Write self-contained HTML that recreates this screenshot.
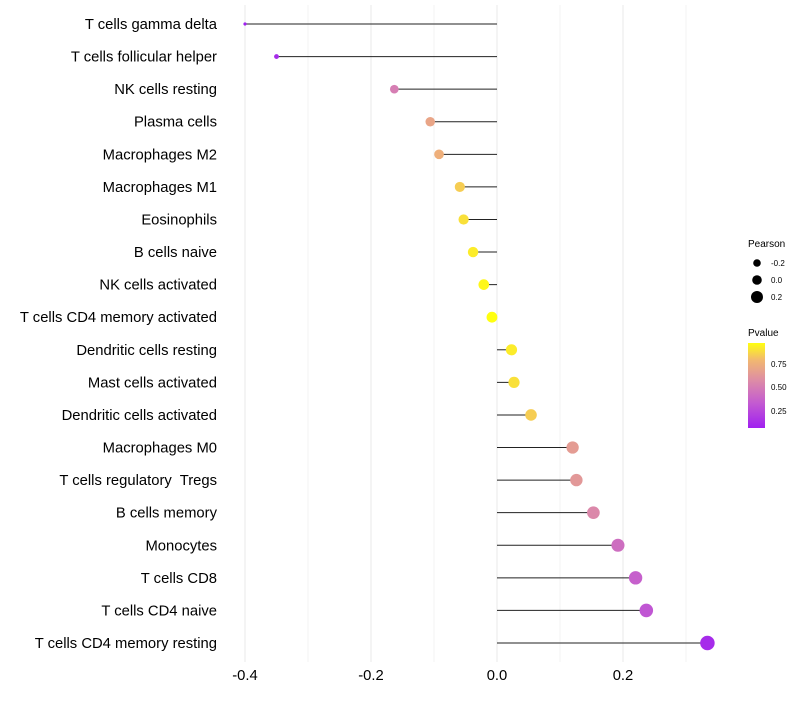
<!DOCTYPE html>
<html><head><meta charset="utf-8"><style>
body{margin:0;background:#fff;width:800px;height:700px;overflow:hidden;font-family:"Liberation Sans",sans-serif}
text{white-space:pre}
</style></head><body>
<svg id="chart" width="800" height="700" xmlns="http://www.w3.org/2000/svg">
<defs><linearGradient id="pg" x1="0" y1="1" x2="0" y2="0">
<stop offset="0" stop-color="#a020f0"/><stop offset="0.3" stop-color="#c45cd0"/><stop offset="0.55" stop-color="#dc8aa8"/><stop offset="0.8" stop-color="#f2b870"/><stop offset="1" stop-color="#ffff10"/></linearGradient></defs>
<g id="grid"></g>
<g id="marks"></g>
<g id="ylabels"></g>
<g id="xlabels"></g>
<g font-size="10">
<text x="748" y="247" fill="#000">Pearson</text>
<circle cx="757" cy="263" r="3.8" fill="#000"/><text x="771" y="266" font-size="8">-0.2</text>
<circle cx="757" cy="280" r="4.8" fill="#000"/><text x="771" y="283" font-size="8">0.0</text>
<circle cx="757" cy="297" r="6" fill="#000"/><text x="771" y="300" font-size="8">0.2</text>
</g>
<g font-size="10">
<text x="748" y="336" fill="#000">Pvalue</text>
<rect x="748" y="343" width="17" height="85" fill="url(#pg)"/>
<text x="771" y="367" font-size="8">0.75</text>
<text x="771" y="390" font-size="8">0.50</text>
<text x="771" y="414" font-size="8">0.25</text>
</g>
</svg>
<script>
const categories=["T cells gamma delta","T cells follicular helper","NK cells resting","Plasma cells","Macrophages M2","Macrophages M1","Eosinophils","B cells naive","NK cells activated","T cells CD4 memory activated","Dendritic cells resting","Mast cells activated","Dendritic cells activated","Macrophages M0","T cells regulatory  Tregs","B cells memory","Monocytes","T cells CD8","T cells CD4 naive","T cells CD4 memory resting"];
const pearson=[-0.40,-0.35,-0.163,-0.106,-0.092,-0.059,-0.053,-0.038,-0.021,-0.008,0.023,0.027,0.054,0.12,0.126,0.153,0.192,0.22,0.237,0.334];
const pvalue=[0.05,0.1,0.5,0.7,0.75,0.85,0.9,0.93,0.96,0.98,0.93,0.9,0.85,0.65,0.63,0.55,0.42,0.35,0.3,0.1];
const xTicks=[-0.4,-0.2,0.0,0.2];
const xTickLabels=["-0.4","-0.2","0.0","0.2"];
const NS="http://www.w3.org/2000/svg";
const x=v=>497+v*630;
const y=i=>24+i*(619/19);
const pMin=Math.min(...pearson),pMax=Math.max(...pearson);
const r=v=>Math.sqrt(2.5+50*(v-pMin)/(pMax-pMin||1));
const stops=[[0,[160,32,240]],[0.3,[196,92,208]],[0.55,[220,138,168]],[0.8,[242,184,112]],[1,[255,255,16]]];
function col(p){let t=Math.min(1,Math.max(0,(p-0.05)/0.93));for(let k=1;k<stops.length;k++){if(t<=stops[k][0]){const a=stops[k-1],b=stops[k],f=(t-a[0])/(b[0]-a[0]);return "rgb("+a[1].map((c,j)=>Math.round(c+(b[1][j]-c)*f)).join(",")+")";}}return "rgb(255,255,16)";}
function mk(tag,attrs,parent){const e=document.createElementNS(NS,tag);for(const k in attrs)e.setAttribute(k,attrs[k]);parent.appendChild(e);return e;}
const grid=document.getElementById('grid');
for(let v=-0.4;v<=0.31;v+=0.1){const l=mk('line',{x1:x(v),x2:x(v),y1:5,y2:662,stroke:'#ebebeb','stroke-width':Math.abs(Math.round(v*10))%2==0?1.1:0.6},grid);

}
const marks=document.getElementById('marks'),yl=document.getElementById('ylabels'),xl=document.getElementById('xlabels');
categories.forEach((c,i)=>{
const s=mk('line',{x1:x(0),x2:x(pearson[i]),y1:y(i),y2:y(i),stroke:'#222','stroke-width':1},marks);


const p=mk('circle',{cx:x(pearson[i]),cy:y(i),r:r(pearson[i]),fill:col(pvalue[i])},marks);


const t=mk('text',{x:217,y:y(i)+5,'text-anchor':'end','font-size':14.8,fill:'#000'},yl);t.textContent=c;


});
xTicks.forEach((v,i)=>{const t=mk('text',{x:x(v),y:680,'text-anchor':'middle','font-size':14.8,fill:'#000'},xl);t.textContent=xTickLabels[i];

});
</script>
</body></html>
